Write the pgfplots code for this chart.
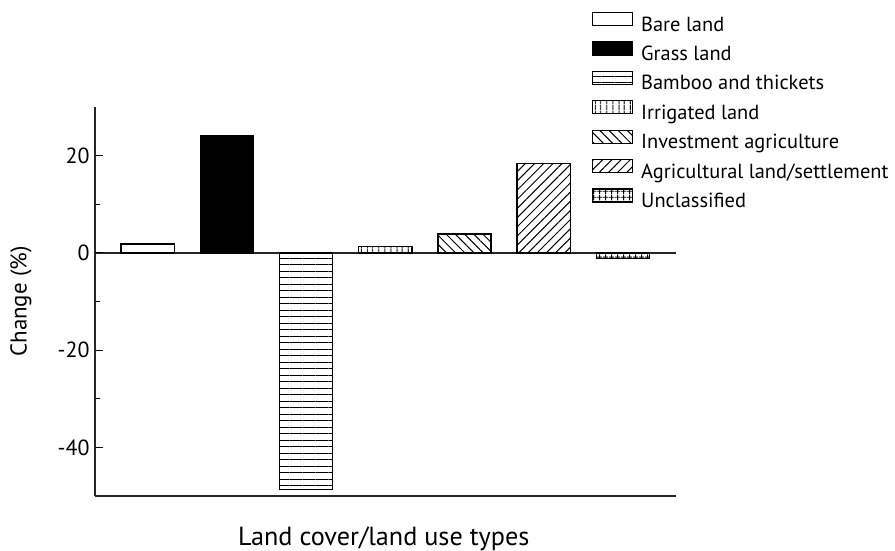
\documentclass[border=0pt]{standalone}
\usepackage{pgfplots}
\pgfplotsset{compat=1.18}
\usepackage{fontspec}
\setmainfont{PT Sans}
\usetikzlibrary{patterns.meta,calc}
\newcommand{\tickfont}{\fontsize{22}{26}\selectfont}
\newcommand{\legfont}{\fontsize{20.5}{24}\selectfont}
\begin{document}
\begin{tikzpicture}
\begin{axis}[
  scale only axis, width=581bp, height=389bp,
  xmin=-0.665, xmax=6.67, ymin=-50, ymax=30,
  axis x line*=bottom, axis y line*=left,
  axis line style={line width=1.3bp, -, black!85},
  xtick=\empty,
  ytick={-40,-20,0,20}, minor ytick={-30,-10,10},
  extra y ticks={0}, extra y tick labels={},
  extra y tick style={grid=major, major grid style={black!85, line width=1.3bp}},
  tick align=inside, major tick length=8bp, minor tick length=5bp,
  tick style={line width=1.2bp, black},
  /pgf/number format/assume math mode=true,
  yticklabel style={font=\tickfont, xshift=-2bp},
  ylabel={Change (\%)}, xlabel={Land cover/land use types},
  ylabel style={font=\fontsize{23}{27}\selectfont, at={(axis description cs:-0.1274,0.5)}, anchor=center},
  xlabel style={font=\fontsize{26.3}{30}\selectfont, at={(axis description cs:0.497,0)}, anchor=base, yshift=-49bp},
  ybar, bar width=0.67, bar shift=0pt,
  legend image code/.code={\draw[#1, line width=1.2bp] (0bp,0bp) rectangle (40bp,13bp);},
  legend cell align=left,
  legend style={draw=none, fill=none, inner sep=0pt, outer sep=0pt,
    at={(axis description cs:0.8554,1.2442)}, anchor=north west,
    row sep=5.3bp, column sep=8bp,
    nodes={inner sep=0pt, text height=16bp, text depth=5bp, font=\legfont}},
  every axis plot/.append style={draw=black, line width=1.4bp},
]
\addplot[fill=white] coordinates {(0,1.8)};
\addlegendentry{Bare land}
\addplot[fill=black] coordinates {(1,24.0)};
\addlegendentry{Grass land}
\addplot[fill=white, postaction={pattern={Lines[angle=0,distance=6.5bp,line width=1bp]}}] coordinates {(2,-48.7)};
\addlegendentry{Bamboo and thickets}
\addplot[fill=white, postaction={pattern={Lines[angle=90,distance=6bp,line width=1.2bp]}}] coordinates {(3,1.3)};
\addlegendentry{Irrigated land}
\addplot[fill=white, postaction={pattern={Lines[angle=-45,distance=6.5bp,line width=1bp]}}] coordinates {(4,3.9)};
\addlegendentry{Investment agriculture}
\addplot[fill=white, postaction={pattern={Lines[angle=45,distance=6.5bp,line width=1bp]}}] coordinates {(5,18.4)};
\addlegendentry{Agricultural land/settlement}
\addplot[fill=white, postaction={pattern={Hatch[angle=0,distance=6bp,line width=1bp]}}] coordinates {(6,-1.1)};
\addlegendentry{Unclassified}
\coordinate (ll) at (rel axis cs:0,0);
\end{axis}
\pgfresetboundingbox
\path[use as bounding box] ($(ll)+(-95bp,-55bp)$) rectangle ($(ll)+(800bp,496bp)$);
\end{tikzpicture}
\end{document}
